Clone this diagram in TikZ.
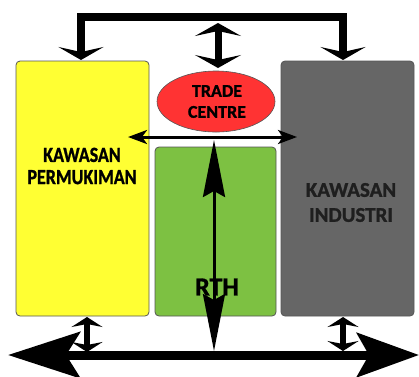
\documentclass[tikz,border=0pt]{standalone}
\usepackage{fontspec}
\setmainfont{Carlito}[BoldFont={Carlito Bold}, BoldFeatures={FakeBold=1.2}]
\usetikzlibrary{arrows.meta,shapes.geometric}
\definecolor{yel}{HTML}{FFFF33}
\definecolor{grn}{HTML}{7DC142}
\definecolor{gry}{HTML}{666666}
\definecolor{rd}{HTML}{FF3333}
\definecolor{edge}{HTML}{555555}
\begin{document}
\begin{tikzpicture}[x=1pt,y=-1pt,
  zone/.style={draw=edge, line width=0.8pt, rounded corners=4pt, minimum width=133pt, minimum height=255pt, inner sep=0pt},
  lbl/.style={font=\bfseries, align=center, text=black, inner sep=0pt},
  bighead/.tip={Stealth[length=13pt,width=45pt,inset=5pt]},
  midhead/.tip={Stealth[length=13pt,width=46pt,inset=5pt]},
  thinhead/.tip={Stealth[length=19pt,width=14pt,inset=5pt]},
  longhead/.tip={Stealth[length=57pt,width=22pt,inset=6pt]},
  hugeL/.tip={Stealth[length=72pt,width=46pt,inset=14pt]},
  hugeR/.tip={Stealth[length=62pt,width=44pt,inset=12pt]},
  smallhead/.tip={Stealth[length=10pt,width=31pt,inset=3pt]}
]
\useasboundingbox (0,0) rectangle (419,376);
% zones
\node[zone, fill=yel] (res) at (82.5,188.5) {};
\node[zone, fill=gry] (ind) at (347.5,188.5) {};
\node[zone, fill=grn, minimum width=121pt, minimum height=169pt] (rth) at (215.5,231.5) {};
\node[ellipse, draw=edge, line width=0.6pt, fill=rd, minimum width=118pt, minimum height=61pt, inner sep=0pt] (tc) at (216,101.5) {};
% labels
\node[lbl, font=\bfseries\fontsize{18}{18.5}\selectfont, yscale=1.2, transform shape] (resl) at (82,166) {KAWASAN\\PERMUKIMAN};
\node[lbl, font=\bfseries\fontsize{21}{25}\selectfont, text=black!88] (indl) at (351,202.5) {KAWASAN\\INDUSTRI};
\node[lbl, font=\bfseries\fontsize{18}{21}\selectfont] (tcl) at (217,101.5) {TRADE\\CENTRE};
\node[lbl, font=\bfseries\fontsize{26}{30}\selectfont] (rthl) at (217,287) {RTH};
% coordinates
\coordinate (resTop) at (81,60);
\coordinate (indTop) at (343,60);
\coordinate (tl) at (81,16.5);
\coordinate (tr) at (343,16.5);
\coordinate (mtop) at (218,23);
\coordinate (mbot) at (218,68);
\coordinate (hl) at (128,137);
\coordinate (hr) at (297,137);
\coordinate (vt) at (214,140);
\coordinate (vb) at (214,351);
\coordinate (bl) at (8,355);
\coordinate (br) at (419,355);
\coordinate (sl1) at (87,317);
\coordinate (sl2) at (87,352);
\coordinate (sr1) at (343,317);
\coordinate (sr2) at (343,351);
% arrows
\draw[line width=8pt, line join=miter, {bighead}-{bighead}] (resTop) -- (tl) -- (tr) -- (indTop);
\draw[line width=7pt, {midhead}-{midhead}] (mtop) -- (mbot);
\draw[line width=3pt, {thinhead}-{thinhead}] (hl) -- (hr);
\draw[line width=3pt, {longhead}-{longhead}] (vt) -- (vb);
\draw[line width=9pt, {hugeL}-{hugeR}] (bl) -- (br);
\draw[line width=6pt, {smallhead}-{smallhead}] (sl1) -- (sl2);
\draw[line width=6pt, {smallhead}-{smallhead}] (sr1) -- (sr2);
\end{tikzpicture}
\end{document}
